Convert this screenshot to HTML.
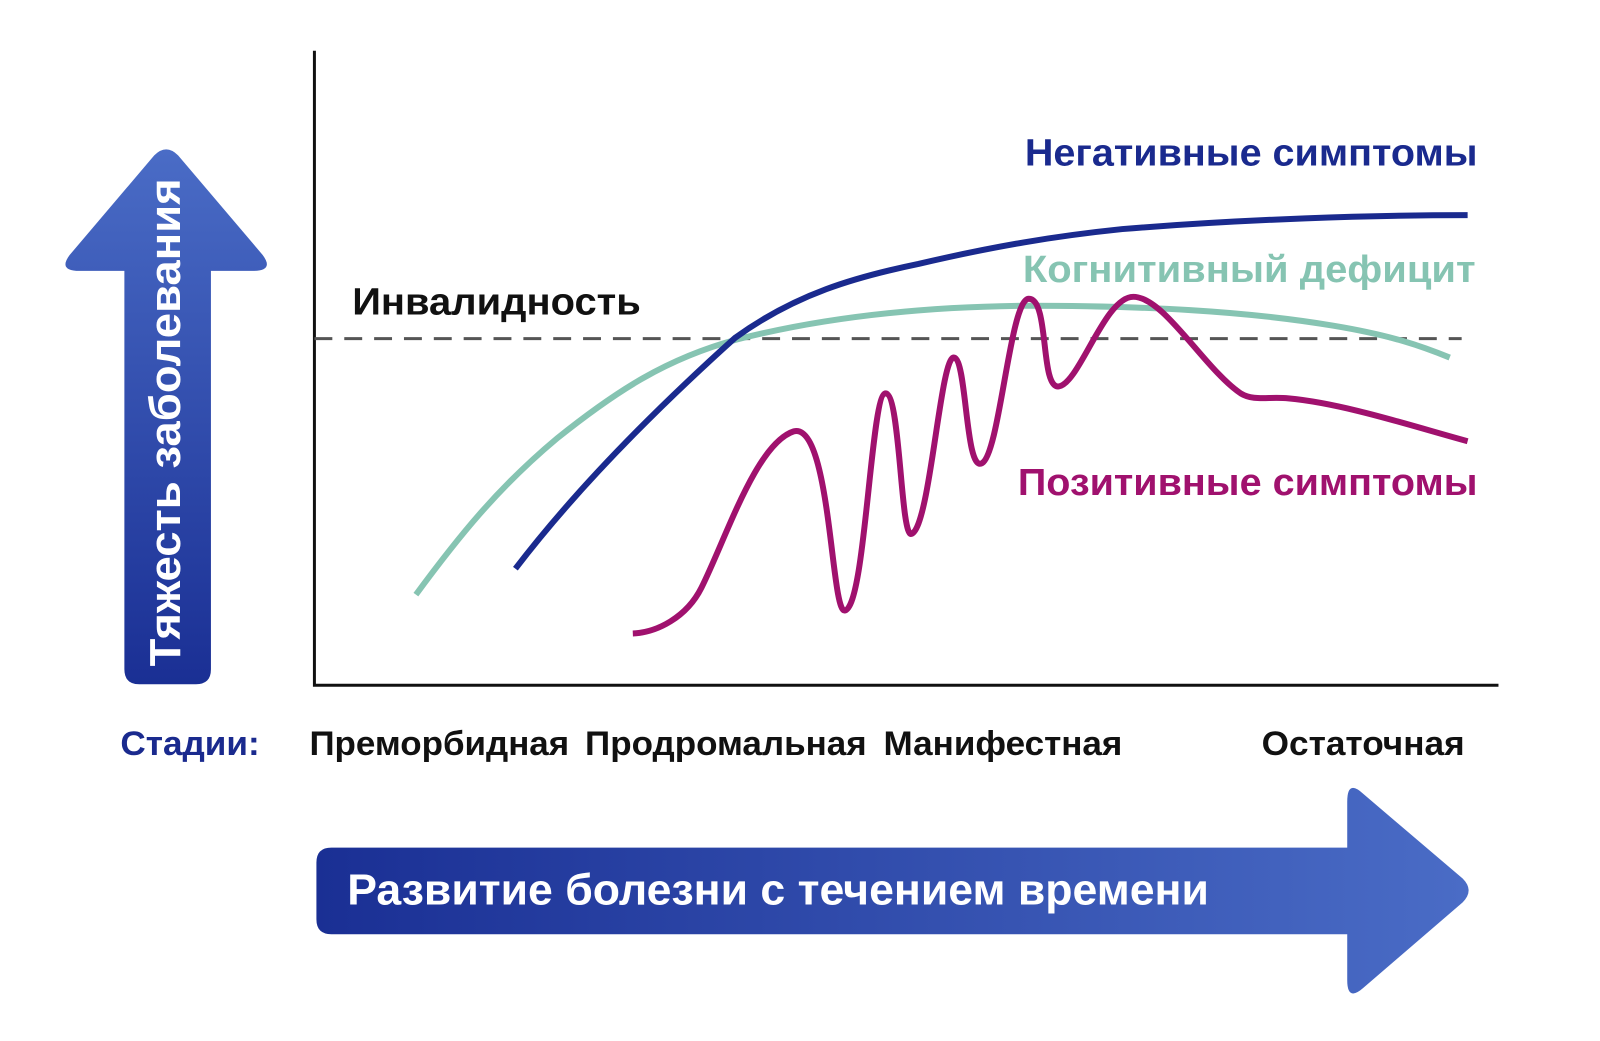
<!DOCTYPE html>
<html><head><meta charset="utf-8"><style>
html,body{margin:0;padding:0;background:#fff;}
svg{display:block;}
text{font-family:"Liberation Sans","DejaVu Sans",sans-serif;font-weight:bold;}
</style></head><body>
<svg width="1600" height="1041" viewBox="0 0 1600 1041" xmlns="http://www.w3.org/2000/svg">
<defs>
<linearGradient id="gv" x1="0" y1="1" x2="0" y2="0">
<stop offset="0" stop-color="#1a2f94"/><stop offset="1" stop-color="#4a6cc6"/></linearGradient>
<linearGradient id="gh" x1="0" y1="0" x2="1" y2="0">
<stop offset="0" stop-color="#1a2f94"/><stop offset="1" stop-color="#4a6cc6"/></linearGradient>
</defs>
<g transform="scale(0.995,0.996)">
<path d="M125,687 L125,272 L80,272 Q58,272 70,256 L155,156 Q167,144 179,156 L264,256 Q276,272 254,272 L212,272 L212,672 Q212,687 197,687 L140,687 Q125,687 125,672 Z" fill="url(#gv)"/>
<text transform="translate(181,424) rotate(-90)" text-anchor="middle" fill="#fff" font-size="44" textLength="490" lengthAdjust="spacingAndGlyphs">Тяжесть заболевания</text>
<path d="M333,851 L1354,851 L1354,805 Q1354,782 1370,797 L1470,882 Q1482,894 1470,906 L1370,992 Q1354,1006 1354,984 L1354,938 L333,938 Q318,938 318,923 L318,866 Q318,851 333,851 Z" fill="url(#gh)"/>
<text x="349" y="908" fill="#fff" font-size="44" textLength="866" lengthAdjust="spacingAndGlyphs">Развитие болезни с течением времени</text>
<path d="M316,51 L316,688 L1506,688" fill="none" stroke="#111" stroke-width="3"/>
<line x1="316" y1="340" x2="1469" y2="340" stroke="#555" stroke-width="3" stroke-dasharray="18,12"/>
<path d="M418,597 C460,540 500,490 560,440 C620,392 670,360 740,341 C830,318 930,308 1030,307 C1150,307 1250,312 1340,327 C1400,337 1430,348 1457,359" fill="none" stroke="#86c4b2" stroke-width="6"/>
<path d="M518,571 C580,490 660,410 739,339 C800,295 860,278 923,265 C1000,247 1060,237 1128,230 C1250,220 1380,216 1475,216" fill="none" stroke="#1a2a8e" stroke-width="6"/>
<path d="M636,636 C660,635 690,620 705,590 C730,540 760,445 798,433 C835,425 835,615 849,613 C870,610 875,395 890,395 C905,395 905,540 916,536 C935,530 945,355 959,359 C972,362 970,475 987,465 C1005,455 1015,300 1034,300 C1055,300 1045,390 1064,388 C1085,385 1110,298 1139,298 C1170,298 1210,370 1247,395 C1260,403 1275,398 1295,400 C1350,405 1420,428 1475,443" fill="none" stroke="#a0116e" stroke-width="6" stroke-linejoin="round"/>
<text x="1030" y="166" fill="#1a2a8e" font-size="38" textLength="455" lengthAdjust="spacingAndGlyphs">Негативные симптомы</text>
<text x="1028" y="283" fill="#86c4b2" font-size="38" textLength="455" lengthAdjust="spacingAndGlyphs">Когнитивный дефицит</text>
<text x="1023" y="497" fill="#a0116e" font-size="38" textLength="462" lengthAdjust="spacingAndGlyphs">Позитивные симптомы</text>
<text x="354" y="316" fill="#111" font-size="38" textLength="290" lengthAdjust="spacingAndGlyphs">Инвалидность</text>
<text x="121" y="758" fill="#1a2a8e" font-size="34" textLength="140" lengthAdjust="spacingAndGlyphs">Стадии:</text>
<text x="311" y="758" fill="#111" font-size="34" textLength="261" lengthAdjust="spacingAndGlyphs">Преморбидная</text>
<text x="588" y="758" fill="#111" font-size="34" textLength="283" lengthAdjust="spacingAndGlyphs">Продромальная</text>
<text x="888" y="758" fill="#111" font-size="34" textLength="240" lengthAdjust="spacingAndGlyphs">Манифестная</text>
<text x="1268" y="758" fill="#111" font-size="34" textLength="204" lengthAdjust="spacingAndGlyphs">Остаточная</text>
</g>
</svg>
</body></html>
